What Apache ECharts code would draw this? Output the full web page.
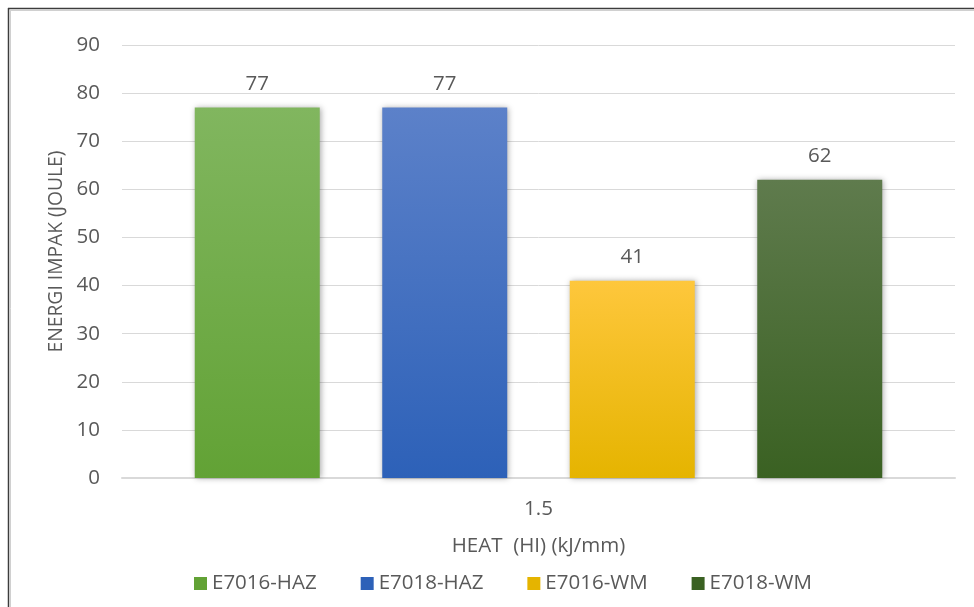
<!DOCTYPE html>
<html>
<head>
<meta charset="utf-8">
<title>Energi Impak</title>
<script src="https://cdn.jsdelivr.net/npm/echarts@6/dist/echarts.min.js"></script>
<style>
  html, body { margin: 0; padding: 0; background: #fff; }
  #chart { width: 974px; height: 607px; }
</style>
</head>
<body>
<div id="chart"></div>
<script>
// Heat input category and impact energy per specimen group
const categories = ['1.5'];
const seriesNames = ['E7016-HAZ', 'E7018-HAZ', 'E7016-WM', 'E7018-WM'];
const e7016Haz = [77];
const e7018Haz = [77];
const e7016Wm = [41];
const e7018Wm = [62];
const yTicks = { min: 0, max: 90, interval: 10 };

// top/bottom colours of each bar's vertical gradient
const palette = [
  ['#81b65f', '#62a235'],
  ['#5c81c9', '#2d61b8'],
  ['#fec73c', '#e5b400'],
  ['#5f7b4d', '#3a6122']
];

const FONT = '"Open Sans", "Noto Sans", sans-serif';
const TEXT = '#595959';
const FS = 20.5;

function grad(c) {
  return new echarts.graphic.LinearGradient(0, 0, 0, 1, [
    { offset: 0, color: c[0] },
    { offset: 1, color: c[1] }
  ]);
}

const values = [e7016Haz, e7018Haz, e7016Wm, e7018Wm];

const series = seriesNames.map((name, i) => ({
  name: name,
  type: 'bar',
  data: values[i],
  barWidth: 125,
  barGap: '50%',
  itemStyle: {
    color: grad(palette[i]),
    shadowBlur: 6,
    shadowColor: 'rgba(0,0,0,0.35)',
    shadowOffsetX: 1
  },
  label: {
    show: true,
    position: 'top',
    distance: 13,
    color: TEXT,
    fontFamily: FONT,
    fontSize: FS
  }
}));

const chart = echarts.init(document.getElementById('chart'), null, { renderer: 'canvas' });

chart.setOption({
  animation: false,
  backgroundColor: '#ffffff',
  grid: { left: 122, right: 19, top: 45, bottom: 129, containLabel: false },
  legend: {
    data: seriesNames.map((n, i) => ({ name: n, itemStyle: { color: palette[i][1] } })),
    left: 189,
    top: 568,
    icon: 'rect',
    itemWidth: 13,
    itemHeight: 13,
    itemGap: 44,
    textStyle: { color: TEXT, fontFamily: FONT, fontSize: FS }
  },
  xAxis: {
    type: 'category',
    data: categories,
    name: 'HEAT  (HI) (kJ/mm)',
    nameLocation: 'middle',
    nameGap: 58,
    nameTextStyle: { color: TEXT, fontFamily: FONT, fontSize: FS },
    axisLine: { lineStyle: { color: '#d9d9d9', width: 2 } },
    axisTick: { show: false },
    axisLabel: { color: TEXT, fontFamily: FONT, fontSize: FS, margin: 21 }
  },
  yAxis: {
    type: 'value',
    min: yTicks.min,
    max: yTicks.max,
    interval: yTicks.interval,
    name: 'ENERGI IMPAK (JOULE)',
    nameLocation: 'middle',
    nameGap: 56,
    nameRotate: 90,
    nameTextStyle: { color: TEXT, fontFamily: FONT, fontSize: 19.3, padding: [0, 0, 0, 20] },
    axisLine: { show: false },
    axisTick: { show: false },
    axisLabel: { color: TEXT, fontFamily: FONT, fontSize: FS, margin: 22 },
    splitLine: { lineStyle: { color: '#d9d9d9', width: 1 } }
  },
  graphic: [
    { type: 'line', silent: true, shape: { x1: 8, y1: 8.5, x2: 974, y2: 8.5 }, style: { stroke: '#3c3c3c', lineWidth: 1.5 } },
    { type: 'line', silent: true, shape: { x1: 8.5, y1: 8, x2: 8.5, y2: 607 }, style: { stroke: '#3c3c3c', lineWidth: 1.5 } },
    { type: 'line', silent: true, shape: { x1: 10, y1: 10.5, x2: 974, y2: 10.5 }, style: { stroke: '#d0d0d0', lineWidth: 1 } },
    { type: 'line', silent: true, shape: { x1: 10.5, y1: 10, x2: 10.5, y2: 607 }, style: { stroke: '#d0d0d0', lineWidth: 1 } }
  ],
  series: series
});
</script>
</body>
</html>
